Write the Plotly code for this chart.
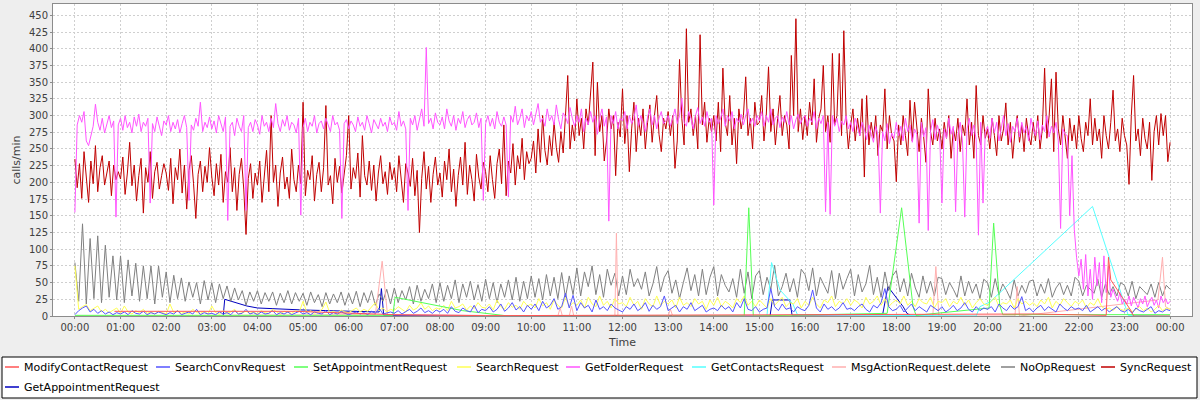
import datetime as dt
import plotly.graph_objects as go

# ---------------------------------------------------------------------------
# Request rates (calls/min) over one day
# ---------------------------------------------------------------------------
DAY = dt.datetime(2012, 3, 14)

# SyncRequest, sampled every 3 minutes (one row per hour)
sync_3min = [
    235, 192, 228, 176, 246, 208, 170, 232, 198, 255, 186, 222, 240, 196, 212, 232, 180, 226, 204, 216,
    205, 238, 182, 214, 260, 195, 226, 172, 210, 236, 154, 222, 200, 246, 176, 216, 230, 190, 210, 228,
    214, 188, 236, 168, 222, 204, 250, 184, 226, 160, 218, 240, 198, 146, 212, 232, 186, 224, 200, 252,
    208, 180, 228, 196, 242, 170, 216, 200, 252, 186, 222, 158, 212, 236, 190, 122, 206, 228, 176, 214,
    196, 232, 170, 210, 248, 186, 300, 200, 226, 164, 214, 238, 190, 208, 176, 250, 204, 186, 226, 198,
    320, 180, 218, 204, 240, 172, 212, 230, 186, 222, 315, 196, 210, 168, 236, 200, 224, 184, 214, 240,
    300, 190, 222, 206, 244, 178, 270, 210, 196, 232, 188, 226, 172, 214, 240, 198, 216, 182, 230, 204,
    222, 186, 240, 200, 170, 228, 214, 194, 236, 180, 218, 125, 206, 246, 190, 224, 170, 212, 238, 196,
    214, 178, 232, 204, 250, 186, 220, 164, 210, 238, 196, 260, 182, 226, 204, 172, 242, 208, 190, 230,
    216, 186, 240, 204, 176, 228, 250, 198, 286, 180, 232, 214, 258, 196, 240, 220, 266, 204, 246, 228,
    236, 262, 214, 280, 230, 300, 248, 226, 270, 240, 290, 252, 230, 276, 244, 300, 360, 250, 286, 262,
    325, 270, 296, 250, 310, 286, 330, 380, 240, 350, 276, 300, 232, 262, 310, 280, 300, 210, 290, 268,
    340, 258, 300, 216, 280, 320, 246, 296, 270, 310, 250, 290, 316, 260, 300, 330, 272, 246, 296, 280,
    306, 270, 300, 221, 262, 384, 296, 256, 430, 290, 310, 270, 300, 250, 421, 286, 320, 260, 296, 276,
    300, 262, 320, 246, 371, 290, 270, 330, 256, 296, 228, 310, 280, 300, 358, 270, 296, 250, 320, 286,
    290, 330, 262, 300, 373, 276, 310, 256, 296, 330, 270, 300, 286, 250, 390, 300, 445, 276, 310, 264,
    300, 270, 320, 286, 355, 260, 296, 310, 375, 276, 300, 260, 393, 286, 300, 393, 270, 427, 296, 250,
    286, 310, 262, 296, 270, 325, 208, 330, 256, 290, 266, 300, 240, 286, 276, 340, 250, 300, 270, 262,
    201, 286, 256, 300, 270, 240, 323, 262, 320, 280, 246, 296, 268, 230, 340, 276, 256, 296, 262, 280,
    250, 290, 266, 300, 236, 280, 262, 296, 246, 286, 270, 325, 256, 290, 236, 345, 270, 256, 300, 266,
    280, 250, 296, 270, 240, 300, 262, 280, 319, 256, 290, 236, 276, 300, 260, 286, 246, 296, 270, 256,
    290, 262, 300, 250, 280, 371, 266, 300, 355, 246, 365, 280, 256, 300, 270, 236, 296, 262, 286, 250,
    300, 266, 246, 290, 270, 325, 256, 296, 262, 280, 236, 300, 270, 250, 290, 338, 262, 280, 246, 296,
    270, 256, 197, 300, 360, 262, 280, 240, 296, 266, 250, 290, 203, 276, 300, 256, 303, 270, 300, 231,
    260,
]

# GetFolderRequest, sampled every 3 minutes
get_folder_3min = [
    155, 286, 300, 290, 306, 262, 255, 270, 284, 317, 290, 278, 296, 274, 288, 300, 282, 292, 148, 286,
    296, 278, 300, 282, 290, 274, 298, 284, 302, 276, 290, 284, 296, 169, 288, 276, 298, 284, 270, 292,
    286, 300, 276, 290, 280, 294, 274, 288, 300, 282, 173, 286, 278, 296, 284, 320, 276, 290, 282, 298,
    280, 292, 274, 300, 286, 276, 298, 143, 284, 290, 270, 296, 284, 276, 300, 158, 282, 290, 276, 294,
    286, 272, 300, 284, 290, 276, 296, 282, 318, 288, 276, 294, 284, 300, 278, 290, 286, 274, 296, 151,
    282, 296, 276, 290, 284, 300, 274, 288, 292, 280, 296, 284, 276, 300, 286, 290, 278, 146, 288, 294,
    280, 292, 286, 276, 298, 284, 290, 278, 300, 288, 274, 294, 286, 280, 296, 284, 290, 276, 298, 286,
    290, 278, 306, 284, 292, 280, 158, 296, 286, 300, 278, 292, 310, 284, 402, 288, 296, 280, 304, 290,
    286, 298, 280, 310, 292, 284, 300, 278, 296, 288, 306, 282, 294, 300, 286, 290, 304, 282, 296, 173,
    288, 300, 284, 296, 280, 306, 290, 284, 298, 286, 178, 300, 290, 314, 286, 296, 310, 282, 300, 292,
    306, 286, 300, 318, 290, 296, 284, 310, 292, 300, 286, 316, 294, 280, 304, 298, 288, 312, 296, 284,
    300, 290, 310, 276, 296, 286, 306, 290, 300, 272, 296, 310, 284, 298, 142, 300, 288, 306, 280, 296,
    292, 306, 280, 300, 288, 296, 316, 284, 300, 290, 276, 298, 310, 286, 300, 280, 296, 306, 288, 292,
    300, 284, 296, 310, 288, 300, 326, 290, 284, 306, 296, 280, 300, 312, 288, 298, 284, 306, 290, 296,
    166, 300, 288, 296, 310, 284, 300, 292, 306, 280, 296, 290, 302, 286, 300, 310, 288, 296, 284, 300,
    292, 306, 284, 300, 290, 310, 286, 296, 300, 282, 298, 290, 306, 286, 300, 280, 294, 302, 288, 296,
    300, 284, 296, 290, 306, 280, 296, 288, 300, 156, 290, 152, 300, 284, 296, 276, 292, 286, 300, 280,
    290, 276, 296, 284, 270, 290, 280, 264, 286, 272, 260, 284, 270, 154, 276, 262, 288, 258, 274, 266,
    290, 270, 284, 262, 296, 276, 286, 260, 280, 272, 139, 290, 268, 282, 128, 276, 294, 264, 286, 272,
    169, 280, 266, 296, 272, 284, 156, 270, 290, 262, 148, 280, 296, 270, 286, 264, 121, 290, 169, 276,
    284, 266, 296, 274, 290, 262, 282, 300, 270, 288, 260, 284, 276, 296, 268, 290, 274, 284, 262, 296,
    280, 270, 292, 264, 286, 276, 300, 268, 284, 274, 290, 262, 131, 280, 272, 270, 150, 240, 130, 88,
    60, 85, 40, 92, 30, 70, 25, 88, 45, 80, 20, 90, 35, 75, 28, 40, 30, 22, 35, 18,
    25, 18, 30, 15, 28, 20, 12, 26, 18, 30, 14, 22, 28, 16, 24, 12, 30, 20, 26, 18,
    22,
]

# NoOpRequest, sampled every 5 minutes
noop_5min = [
    80, 22, 138, 18, 116, 26, 120, 20, 106, 28, 90, 24,
    90, 20, 84, 30, 79, 22, 75, 26, 75, 18, 75, 28,
    66, 20, 61, 26, 57, 22, 51, 28, 50, 18, 53, 24,
    50, 20, 48, 26, 45, 22, 42, 24, 38, 16, 36, 22,
    38, 18, 35, 22, 36, 16, 34, 20, 38, 18, 35, 22,
    34, 16, 36, 20, 32, 14, 35, 18, 33, 20, 36, 16,
    34, 18, 37, 14, 35, 20, 38, 16, 33, 22, 40, 18,
    42, 20, 38, 24, 44, 18, 46, 22, 40, 26, 48, 20,
    50, 22, 46, 26, 54, 20, 48, 28, 52, 24, 47, 22,
    55, 26, 50, 20, 48, 28, 54, 24, 58, 22, 52, 26,
    60, 28, 56, 24, 62, 30, 58, 26, 65, 28, 60, 32,
    72, 30, 66, 44, 75, 32, 62, 28, 70, 46, 64, 30,
    60, 32, 70, 44, 56, 40, 66, 30, 48, 74, 36, 58,
    68, 34, 54, 26, 50, 72, 38, 62, 30, 70, 32, 58,
    74, 30, 62, 46, 36, 56, 28, 70, 34, 66, 26, 60,
    68, 32, 58, 40, 76, 30, 44, 64, 36, 56, 28, 70,
    62, 38, 72, 30, 58, 46, 34, 68, 26, 64, 40, 56,
    70, 30, 62, 36, 48, 76, 32, 58, 28, 66, 38, 60,
    68, 36, 56, 30, 64, 42, 28, 60, 34, 52, 30, 58,
    56, 32, 50, 40, 28, 60, 30, 52, 34, 48, 26, 55,
    50, 28, 56, 32, 48, 38, 26, 54, 30, 46, 34, 52,
    54, 30, 48, 34, 56, 28, 42, 50, 32, 46, 30, 58,
    52, 30, 46, 40, 34, 55, 28, 48, 32, 44, 30, 50,
    46, 30, 52, 26, 44, 38, 32, 48, 28, 50, 30, 46,
    40,
]

# SearchRequest, sampled every 5 minutes
search_5min = [
    75, 10, 14, 17, 8, 12, 15, 6, 10, 5, 8, 12,
    4, 15, 6, 3, 8, 5, 10, 4, 6, 3, 7, 5,
    3, 18, 5, 8, 4, 6, 3, 10, 5, 4, 7, 3,
    15, 5, 3, 8, 4, 6, 10, 3, 5, 7, 4, 6,
    3, 8, 5, 4, 10, 6, 3, 7, 5, 4, 8, 6,
    22, 5, 8, 4, 6, 10, 21, 5, 7, 4, 9, 6,
    5, 8, 12, 6, 10, 7, 14, 20, 8, 12, 6, 10,
    8, 14, 10, 6, 16, 9, 12, 20, 10, 15, 8, 12,
    10, 16, 8, 22, 12, 14, 18, 9, 15, 11, 20, 13,
    12, 18, 9, 24, 14, 10, 20, 13, 16, 10, 22, 15,
    18, 12, 26, 15, 20, 10, 24, 16, 12, 28, 14, 20,
    16, 24, 12, 28, 18, 14, 30, 16, 22, 12, 26, 18,
    20, 14, 28, 16, 22, 10, 26, 18, 14, 30, 16, 22,
    18, 24, 12, 28, 16, 20, 14, 26, 18, 22, 10, 24,
    16, 28, 14, 22, 18, 12, 26, 20, 30, 16, 22, 14,
    24, 18, 12, 26, 16, 22, 28, 14, 20, 18, 26, 12,
    22, 16, 28, 18, 12, 24, 20, 30, 14, 22, 18, 26,
    16, 24, 20, 12, 28, 18, 22, 30, 16, 26, 14, 20,
    24, 18, 30, 16, 22, 14, 26, 20, 18, 28, 12, 22,
    20, 26, 14, 22, 18, 28, 16, 24, 12, 20, 26, 18,
    16, 22, 28, 14, 20, 18, 24, 12, 26, 18, 22, 16,
    20, 14, 24, 18, 28, 12, 22, 16, 26, 20, 14, 22,
    18, 24, 12, 20, 16, 26, 14, 10, 12, 8, 14, 10,
    8, 12, 6, 10, 14, 8, 12, 6, 10, 16, 8, 12,
    10,
]

# SearchConvRequest, sampled every 5 minutes
search_conv_5min = [
    2, 8, 12, 15, 6, 10, 4, 8, 3, 6, 2, 5,
    3, 6, 2, 8, 4, 3, 7, 2, 5, 3, 6, 4,
    2, 5, 3, 8, 2, 4, 6, 3, 10, 2, 5, 3,
    4, 2, 6, 3, 5, 2, 8, 3, 4, 10, 3, 5,
    2, 6, 3, 4, 8, 2, 5, 3, 6, 2, 4, 7,
    3, 5, 2, 6, 4, 3, 8, 2, 5, 3, 6, 4,
    2, 4, 6, 3, 5, 2, 7, 4, 12, 3, 5, 6,
    4, 8, 3, 6, 10, 4, 7, 12, 5, 8, 4, 9,
    6, 10, 4, 14, 7, 5, 12, 8, 6, 16, 5, 10,
    8, 14, 6, 10, 18, 7, 12, 20, 9, 14, 6, 16,
    10, 18, 8, 22, 12, 16, 26, 10, 14, 34, 12, 31,
    8, 20, 12, 16, 6, 24, 10, 14, 8, 18, 12, 9,
    6, 14, 10, 18, 8, 12, 20, 7, 16, 10, 14, 30,
    8, 12, 16, 6, 14, 10, 20, 8, 12, 16, 6, 10,
    12, 8, 16, 10, 14, 6, 20, 12, 26, 10, 8, 14,
    6, 10, 12, 41, 14, 8, 18, 10, 12, 6, 14, 10,
    8, 16, 39, 12, 6, 18, 10, 14, 8, 12, 20, 10,
    12, 8, 14, 18, 10, 6, 16, 12, 20, 41, 14, 8,
    10, 16, 6, 12, 18, 8, 14, 10, 6, 16, 12, 8,
    14, 6, 10, 16, 8, 12, 20, 10, 6, 14, 8, 12,
    10, 14, 6, 18, 12, 8, 16, 10, 14, 29, 8, 12,
    6, 12, 16, 8, 14, 10, 6, 18, 12, 8, 14, 10,
    12, 8, 16, 6, 10, 14, 8, 12, 6, 10, 14, 8,
    6, 10, 4, 12, 8, 6, 10, 14, 4, 8, 6, 10,
    8,
]

# Sparse series: (clock time, value) samples
modify_contact_times = ["00:52", "04:50", "07:00", "09:00", "21:00", "22:36", "22:39", "22:42", "23:08", "23:12", "24:00"]
modify_contact_vals = [7, 7, 2, 0.5, 3, 1, 88, 54, 9, 0, 0]

set_appt_times = ["00:00", "06:58", "07:01", "08:00", "08:30", "09:15", "09:30", "14:40", "14:46", "14:52",
                  "17:48", "18:07", "18:22", "18:26", "20:02", "20:08", "20:16", "20:20", "24:00"]
set_appt_vals = [1, 1, 28, 15, 8, 2, 0, 0, 162, 0, 4, 162, 14, 1, 12, 139, 16, 2, 2]

get_contacts_times = ["15:10", "15:16", "15:27", "15:44", "15:50", "19:45", "19:50", "20:03", "22:18", "23:05", "24:00"]
get_contacts_vals = [1, 80, 39, 18, 2, 0, 14, 21, 164, 1, 0]

msg_delete_times = ["00:00", "06:35", "06:44", "06:51", "10:35", "10:38", "10:41", "10:50", "10:53", "10:56",
                    "11:50", "11:52", "11:54", "13:00", "13:03", "13:06", "18:48", "18:52", "18:56",
                    "20:36", "20:39", "20:42", "23:44", "23:50", "23:54", "24:00"]
msg_delete_vals = [0, 2, 82, 2, 0, 12, 0, 0, 15, 0, 0, 124, 0, 0, 10, 0, 0, 74, 0, 0, 44, 0, 24, 88, 14, 10]

get_appt_times = ["03:15", "03:17", "03:46", "04:00", "05:00", "06:40", "06:43", "06:46", "15:14", "15:17",
                  "15:40", "15:43", "17:42", "17:49", "18:09", "18:14", "18:20"]
get_appt_vals = [0, 25, 15, 12, 9, 6, 41, 1, 0, 24, 24, 1, 2, 44, 14, 4, 0]


def clock(s):
    h, m = s.split(":")
    return DAY + dt.timedelta(hours=int(h), minutes=int(m))


def regular(step_min, values):
    return [DAY + dt.timedelta(minutes=step_min * i) for i in range(len(values))]


# name, x, y, colour  (legend order; drawn in reverse so the first is on top)
series = [
    ("ModifyContactRequest", [clock(t) for t in modify_contact_times], modify_contact_vals, "#FF5555"),
    ("SearchConvRequest", regular(5, search_conv_5min), search_conv_5min, "#5555FF"),
    ("SetAppointmentRequest", [clock(t) for t in set_appt_times], set_appt_vals, "#55FF55"),
    ("SearchRequest", regular(5, search_5min), search_5min, "#FFFF55"),
    ("GetFolderRequest", regular(3, get_folder_3min), get_folder_3min, "#FF55FF"),
    ("GetContactsRequest", [clock(t) for t in get_contacts_times], get_contacts_vals, "#55FFFF"),
    ("MsgActionRequest.delete", [clock(t) for t in msg_delete_times], msg_delete_vals, "#FFAFAF"),
    ("NoOpRequest", regular(5, noop_5min), noop_5min, "#808080"),
    ("SyncRequest", regular(3, sync_3min), sync_3min, "#C00000"),
    ("GetAppointmentRequest", [clock(t) for t in get_appt_times], get_appt_vals, "#0000C0"),
]

fig = go.Figure()
for name, xs, ys, col in reversed(series):
    fig.add_trace(go.Scatter(x=xs, y=ys, name=name, mode="lines",
                             line=dict(color=col, width=1), showlegend=False))

# ---------------------------------------------------------------------------
# Layout
# ---------------------------------------------------------------------------
W, H = 1200, 400
ML, MR, MT, MB = 53, 8, 4, 84
PW, PH = W - ML - MR, H - MT - MB


def px_x(px):
    return (px - ML) / PW


def px_y(py):
    return (H - MB - py) / PH


pad = dt.timedelta(hours=24 * 0.02)
axis_font = dict(family="DejaVu Sans", size=10, color="#404040")
title_font = dict(family="DejaVu Sans", size=11, color="#404040")

fig.update_layout(
    width=W, height=H,
    margin=dict(l=ML, r=MR, t=MT, b=MB),
    paper_bgcolor="#EEEEEE",
    plot_bgcolor="#FFFFFF",
    showlegend=False,
    xaxis=dict(
        type="date",
        range=[DAY - pad, DAY + dt.timedelta(hours=24) + pad],
        tick0=DAY, dtick=3600000, tickformat="%H:%M",
        showgrid=True, gridcolor="#CFCFCF", griddash="2px,2px", gridwidth=1,
        showline=True, linecolor="#8C8C8C", linewidth=1, mirror=True,
        ticks="outside", ticklen=2, tickcolor="#8C8C8C",
        tickfont=axis_font, zeroline=False,
        title=dict(text="Time", font=title_font, standoff=6),
    ),
    yaxis=dict(
        range=[0, 467], dtick=25, tick0=0,
        showgrid=True, gridcolor="#CFCFCF", griddash="2px,2px", gridwidth=1,
        showline=True, linecolor="#8C8C8C", linewidth=1, mirror=True,
        ticks="outside", ticklen=2, tickcolor="#8C8C8C",
        tickfont=axis_font, zeroline=False,
        title=dict(text="calls/min", font=title_font, standoff=6),
    ),
)

# Legend drawn as a framed box below the plot
shapes = [dict(type="rect", xref="paper", yref="paper",
               x0=px_x(2), x1=px_x(1197), y0=px_y(398), y1=px_y(357),
               line=dict(color="#000000", width=1), fillcolor="#FFFFFF", layer="above")]
annotations = []
legend_slots = [  # (line start px, row centre px)
    (5, 367), (156, 367), (294, 367), (457, 367), (566, 367),
    (692, 367), (832, 367), (1001, 367), (1101, 367), (5, 387),
]
for (name, _, _, col), (lx, ly) in zip(series, legend_slots):
    shapes.append(dict(type="line", xref="paper", yref="paper",
                       x0=px_x(lx), x1=px_x(lx + 14), y0=px_y(ly), y1=px_y(ly),
                       line=dict(color=col, width=1.5)))
    annotations.append(dict(text=name, xref="paper", yref="paper",
                            x=px_x(lx + 17), y=px_y(ly), xanchor="left", yanchor="middle",
                            showarrow=False, font=dict(family="DejaVu Sans", size=11, color="#000000")))

fig.update_layout(shapes=shapes, annotations=annotations)

fig.write_html("out.html")
